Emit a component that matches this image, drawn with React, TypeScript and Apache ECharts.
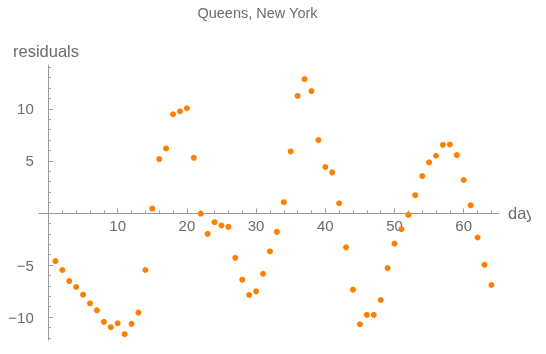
import React, { useEffect, useRef } from "react";
import * as echarts from "echarts";

const title = "Queens, New York";
const xName = "day";
const yName = "residuals";
const days = [
  1, 2, 3, 4, 5, 6, 7, 8, 9, 10, 11, 12, 13, 14, 15, 16, 17, 18, 19, 20, 21, 22,
  23, 24, 25, 26, 27, 28, 29, 30, 31, 32, 33, 34, 35, 36, 37, 38, 39, 40, 41, 42,
  43, 44, 45, 46, 47, 48, 49, 50, 51, 52, 53, 54, 55, 56, 57, 58, 59, 60, 61, 62,
  63, 64,
];
const residuals = [
  -4.62, -5.48, -6.54, -7.11, -7.85, -8.68, -9.35, -10.46, -10.97, -10.59, -11.64,
  -10.65, -9.57, -5.48, 0.41, 5.17, 6.19, 9.47, 9.76, 10.05, 5.29, -0.06, -2.01,
  -0.89, -1.21, -1.34, -4.31, -6.41, -7.88, -7.53, -5.84, -3.7, -1.82, 1.03, 5.9,
  11.23, 12.85, 11.7, 6.99, 4.4, 3.89, 0.93, -3.3, -7.37, -10.69, -9.79, -9.79,
  -8.36, -5.3, -2.94, -1.56, -0.19, 1.7, 3.54, 4.85, 5.49, 6.54, 6.57, 5.55, 3.16,
  0.73, -2.36, -4.98, -6.92,
];
const xMajorTicks = [10, 20, 30, 40, 50, 60];
const xMinorTicks = [2, 4, 6, 8, 12, 14, 16, 18, 22, 24, 26, 28, 32, 34, 36, 38, 42, 44, 46, 48, 52, 54, 56, 58, 62, 64];
const yMajorTicks = [-10, -5, 5, 10];
const yMinorTicks = [-12, -11, -9, -8, -7, -6, -4, -3, -2, -1, 1, 2, 3, 4, 6, 7, 8, 9, 11, 12, 13, 14];

const X_MIN = -1.4;
const X_MAX = 65.1;
const Y_MIN = -12.2;
const Y_MAX = 14.2;

const GRID_LEFT = 38.8;
const GRID_RIGHT = 47;
const GRID_TOP = 65;
const GRID_BOTTOM = 14;
const H = 354;

const FONT = "'Liberation Sans', Arial, sans-serif";
const AXIS_COLOR = "#9a9a9a";
const TEXT_COLOR = "#6b6b6b";

const fmt = (v: number) => String(v).replace("-", "\u2212");

export default function App() {
  const ref = useRef<HTMLDivElement>(null);
  useEffect(() => {
    if (!ref.current) return;
    const chart = echarts.init(ref.current, undefined, { renderer: "svg" });
    const plotH = H - GRID_TOP - GRID_BOTTOM;
    const zeroY = GRID_TOP + ((Y_MAX - 0) / (Y_MAX - Y_MIN)) * plotH;
    const xOffset = -(GRID_TOP + plotH - zeroY);
    const baseX = {
      type: "value" as const,
      min: X_MIN,
      max: X_MAX,
      position: "bottom" as const,
      offset: xOffset,
      splitLine: { show: false },
    };
    const baseY = {
      type: "value" as const,
      min: Y_MIN,
      max: Y_MAX,
      position: "left" as const,
      splitLine: { show: false },
    };
    chart.setOption({
      animation: false,
      grid: { left: GRID_LEFT, right: GRID_RIGHT, top: GRID_TOP, bottom: GRID_BOTTOM, containLabel: false },
      xAxis: [
        {
          ...baseX,
          axisLine: { show: true, onZero: false, lineStyle: { color: AXIS_COLOR, width: 1 } },
          axisTick: { show: true, inside: true, length: 4.5, customValues: xMajorTicks, lineStyle: { color: AXIS_COLOR } },
          axisLabel: {
            show: true,
            customValues: xMajorTicks,
            margin: 5,
            color: TEXT_COLOR,
            fontSize: 15,
            fontFamily: FONT,
            formatter: (v: number) => fmt(v),
          },
        },
        {
          ...baseX,
          axisLine: { show: false, onZero: false },
          axisTick: { show: true, inside: true, length: 2.5, customValues: xMinorTicks, lineStyle: { color: AXIS_COLOR } },
          axisLabel: { show: false },
        },
      ],
      yAxis: [
        {
          ...baseY,
          axisLine: { show: true, onZero: true, lineStyle: { color: AXIS_COLOR, width: 1 } },
          axisTick: { show: true, inside: true, length: 4.5, customValues: yMajorTicks, lineStyle: { color: AXIS_COLOR } },
          axisLabel: {
            show: true,
            customValues: yMajorTicks,
            margin: 5,
            color: TEXT_COLOR,
            fontSize: 15,
            fontFamily: FONT,
            formatter: (v: number) => fmt(v),
          },
        },
        {
          ...baseY,
          axisLine: { show: false, onZero: true },
          axisTick: { show: true, inside: true, length: 2.5, customValues: yMinorTicks, lineStyle: { color: AXIS_COLOR } },
          axisLabel: { show: false },
        },
      ],
      graphic: [
        {
          type: "text",
          x: 257.5,
          y: 13,
          style: { text: title, fill: TEXT_COLOR, font: `14.5px ${FONT}`, align: "center", verticalAlign: "middle" },
        },
        {
          type: "text",
          x: 13,
          y: 51,
          style: { text: yName, fill: TEXT_COLOR, font: `16.5px ${FONT}`, align: "left", verticalAlign: "middle" },
        },
        {
          type: "text",
          x: 508,
          y: 213,
          style: { text: xName, fill: TEXT_COLOR, font: `16.5px ${FONT}`, align: "left", verticalAlign: "middle" },
        },
        {
          type: "rect",
          shape: { x: 531, y: 195, width: 15, height: 35 },
          style: { fill: "#ffffff" },
          z: 100,
        },
      ],
      series: [
        {
          type: "scatter",
          xAxisIndex: 0,
          yAxisIndex: 0,
          symbol: "circle",
          symbolSize: 6,
          itemStyle: { color: "#ff8000", opacity: 1 },
          data: days.map((d, i) => [d, residuals[i]]),
        },
      ],
    });
    return () => chart.dispose();
  }, []);
  return <div ref={ref} style={{ position: "fixed", left: 0, top: 0, width: 546, height: 354 }} />;
}
